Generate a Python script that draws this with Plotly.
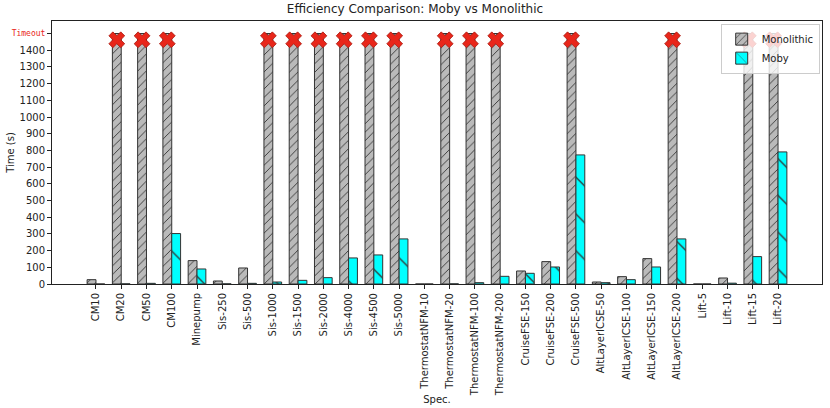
import plotly.graph_objects as go

categories = ["CM10", "CM20", "CM50", "CM100", "Minepump", "Sis-250", "Sis-500",
              "Sis-1000", "Sis-1500", "Sis-2000", "Sis-4000", "Sis-4500", "Sis-5000",
              "ThermostatNFM-10", "ThermostatNFM-20", "ThermostatNFM-100", "ThermostatNFM-200",
              "CruiseFSE-150", "CruiseFSE-200", "CruiseFSE-500",
              "AltLayerICSE-50", "AltLayerICSE-100", "AltLayerICSE-150", "AltLayerICSE-200",
              "Lift-5", "Lift-10", "Lift-15", "Lift-20"]

TIMEOUT = 1500
# None = timeout
monolithic = [26, None, None, None, 140, 18, 96, None, None, None, None, None, None,
              0, None, None, None, 78, 134, None, 12, 44, 152, None, 0, 36, None, None]
moby = [0, 1, 4, 302, 90, 1, 4, 12, 22, 38, 156, 174, 270,
        0, 1, 8, 46, 64, 102, 773, 8, 26, 102, 270, 0, 5, 164, 791]

y_ticks = list(range(0, 1500, 100))

idx = list(range(len(categories)))
mono_vals = [TIMEOUT if v is None else v for v in monolithic]
to_x = [i - 0.175 for i, v in zip(idx, monolithic) if v is None]
to_y = [TIMEOUT * 0.975 for v in monolithic if v is None]

fig = go.Figure()
fig.add_trace(go.Bar(
    x=idx, y=mono_vals, name="Monolithic", width=0.35, offset=-0.35,
    marker=dict(color="#bababa", line=dict(color="#333333", width=1),
                pattern=dict(shape="/", fgcolor="#333333", bgcolor="#bababa",
                             size=6, solidity=0.15, fillmode="replace")),
))
fig.add_trace(go.Bar(
    x=idx, y=moby, name="Moby", width=0.35, offset=0,
    marker=dict(color="#00ffff", line=dict(color="#333333", width=1),
                pattern=dict(shape="\\", fgcolor="#333333", bgcolor="#00ffff",
                             size=26, solidity=0.05, fillmode="replace")),
))
fig.add_trace(go.Scatter(
    x=to_x, y=to_y, mode="markers", showlegend=False, hoverinfo="skip",
    marker=dict(symbol="x", size=14, color="#e8261a",
                line=dict(color="#a81c12", width=0.8)),
))
# overlay axis to hold the red "Timeout" tick label
fig.add_trace(go.Scatter(x=[None], y=[None], yaxis="y2", showlegend=False))

yr = [0, 1575]
fig.update_layout(
    width=830, height=408,
    margin=dict(l=52, r=8, t=21, b=124),
    paper_bgcolor="white", plot_bgcolor="white",
    font=dict(family="DejaVu Sans", size=10, color="#222222"),
    title=dict(text="Efficiency Comparison: Moby vs Monolithic", x=0.5, xanchor="center",
               y=1, yanchor="top", yref="container", pad=dict(t=5),
               font=dict(size=12, color="#222222")),
    barmode="overlay",
    showlegend=True,
    legend=dict(x=0.997, y=0.99, xanchor="right", yanchor="top",
                bgcolor="rgba(255,255,255,0.8)", bordercolor="#cccccc", borderwidth=1,
                font=dict(size=10), tracegroupgap=0, itemwidth=30),
    xaxis=dict(
        range=[-1.74, 28.74], tickmode="array", tickvals=idx, ticktext=categories,
        tickangle=-90, ticks="outside", ticklen=4, tickcolor="#222222",
        showline=True, linecolor="#222222", linewidth=1, mirror=True,
        showgrid=False, zeroline=False, automargin=False,
        title=dict(text="Spec.", font=dict(size=10), standoff=0),
    ),
    yaxis=dict(
        range=yr, tickmode="array", tickvals=y_ticks,
        ticks="outside", ticklen=4, tickcolor="#222222",
        showline=True, linecolor="#222222", linewidth=1, mirror=True,
        showgrid=False, zeroline=False, automargin=False,
        title=dict(text="Time (s)", font=dict(size=10), standoff=3),
    ),
    yaxis2=dict(
        overlaying="y", side="left", range=yr, tickmode="array",
        tickvals=[TIMEOUT], ticktext=["Timeout"], ticks="outside", ticklen=4,
        tickcolor="#222222", tickfont=dict(family="DejaVu Sans Mono", size=8, color="#e8261a"),
        showgrid=False, zeroline=False, showline=False, automargin=False,
    ),
)

fig.write_html("out.html", config={"displayModeBar": False},
               post_script="document.body.style.margin='0px';")
